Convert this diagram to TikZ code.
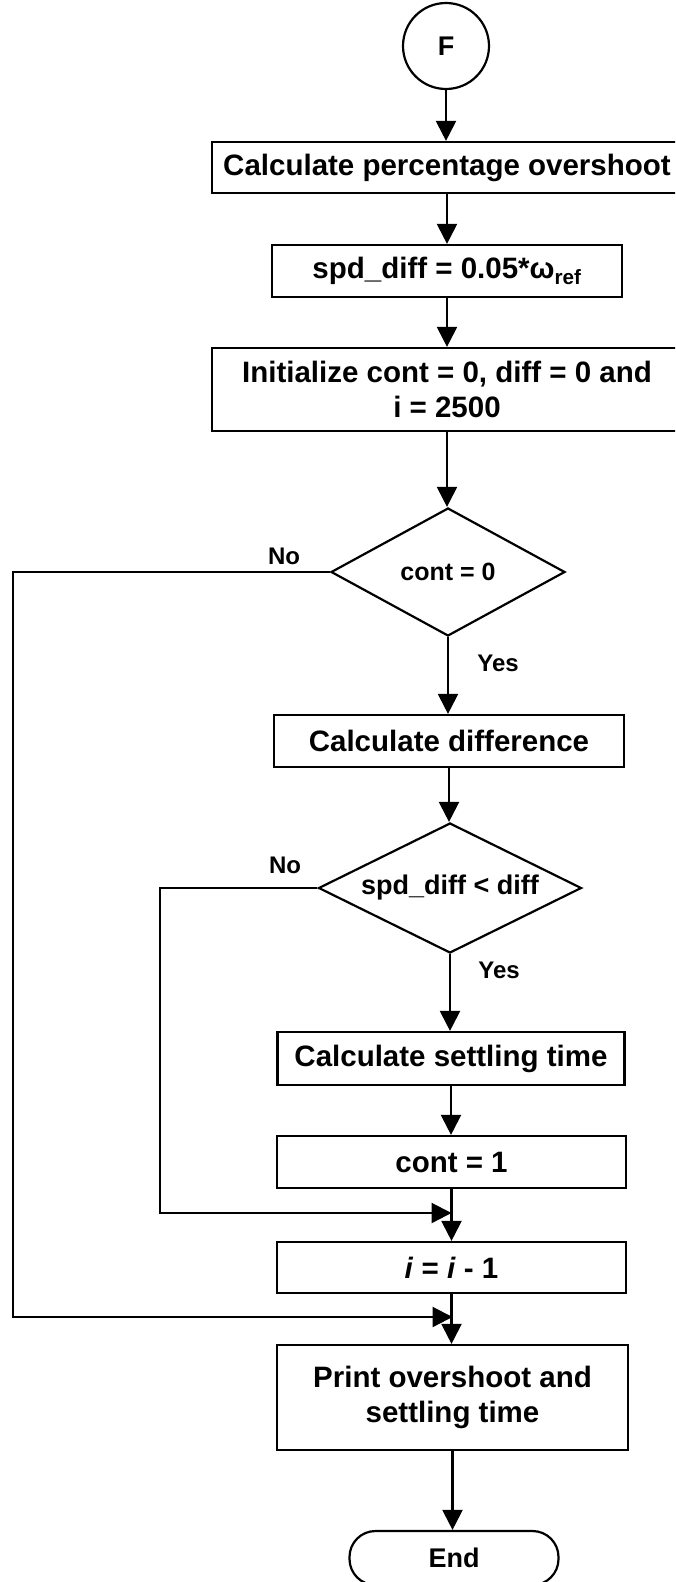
\documentclass[tikz,border=0pt]{standalone}
\usepackage{fontspec}
\setmainfont{Liberation Sans}
\usetikzlibrary{shapes.geometric,arrows.meta}

\begin{document}
\begin{tikzpicture}[x=1pt,y=-1pt,
  every node/.style={font=\fontsize{29.5}{35}\selectfont\bfseries},
  procbox/.style={draw, line width=2.2pt, inner sep=0pt, align=center},
  decision/.style={draw, shape=diamond, line width=2.2pt, inner sep=0pt,
    font=\fontsize{25}{30}\selectfont\bfseries},
  terminal/.style={draw, line width=2.2pt, inner sep=0pt, rounded corners=26pt},
  lbl/.style={font=\fontsize{24}{28}\selectfont\bfseries, inner sep=0pt},
  flow/.style={line width=2.2pt, -{Triangle[width=20pt,length=20pt]}}]

\useasboundingbox (0,0) rectangle (675,1582);
\clip (0,0) rectangle (675,1582);

% main column
\node[procbox, circle, minimum size=86pt, font=\fontsize{27}{30}\selectfont\bfseries] (F) at (446,46) {F};
\node[procbox, minimum width=470pt, minimum height=51pt] (b1) at (447,167.5) {Calculate percentage overshoot};
\node[procbox, minimum width=350pt, minimum height=52pt] (b2) at (447,271) {spd\_diff = 0.05*ω\textsubscript{ref}};
\node[procbox, minimum width=470pt, minimum height=83pt] (b3) at (447,389.5) {Initialize cont = 0, diff = 0 and\\ i = 2500};
\node[decision, minimum width=234pt, minimum height=128pt, aspect=1.83] (d1) at (448,572) {cont = 0};
\node[procbox, minimum width=350pt, minimum height=52pt] (b4) at (449,741) {Calculate difference};
\node[decision, minimum width=263pt, minimum height=130pt, aspect=2.02,
  font=\fontsize{27}{30}\selectfont\bfseries] (d2) at (450,888) {spd\_diff < diff};
\node[procbox, minimum width=347pt, minimum height=53pt] (b5) at (451,1058.5) {Calculate settling time};
\node[procbox, minimum width=349pt, minimum height=52pt] (b6) at (451.5,1162) {cont = 1};
\node[procbox, minimum width=349pt, minimum height=51pt] (b7) at (451.5,1267.5) {\textit{i} = \textit{i} - 1};
\node[procbox, minimum width=351pt, minimum height=105pt] (b8) at (452.5,1397.5) {Print overshoot and\\ settling time};
\node[terminal, minimum width=209pt, minimum height=54pt, font=\fontsize{27}{30}\selectfont\bfseries] (end) at (454,1558) {End};

% branch labels
\node[lbl] (no1) at (284,556) {No};
\node[lbl] (yes1) at (498,663) {Yes};
\node[lbl] (no2) at (285,865) {No};
\node[lbl] (yes2) at (499,970) {Yes};

% joins and loop corners
\coordinate (j1) at (451.5,1213);
\coordinate (j2) at (452.5,1317);
\coordinate (l1) at (13,1317);
\coordinate (l2) at (160,1213);

% straight flow
\draw[flow] (F.south) -- (F.south |- b1.north);
\draw[flow] (b1.south -| b2.north) -- (b2.north);
\draw[flow] (b2.south) -- (b2.south |- b3.north);
\draw[flow] (b3.south) -- (b3.south |- d1.north);
\draw[flow] (d1.south) -- (d1.south |- b4.north);
\draw[flow] (b4.south) -- (b4.south |- d2.north);
\draw[flow] (d2.south) -- (d2.south |- b5.north);
\draw[flow] (b5.south) -- (b5.south |- b6.north);
\draw[flow] (b6.south) -- (b7.north);
\draw[flow] (b7.south) -- (b7.south |- b8.north);
\draw[flow] (b8.south) -- (b8.south |- end.north);

% "No" branches
\draw[flow] (d1.west) -| (l1) -- (j2);
\draw[flow] (d2.west) -| (l2) -- (j1);
\end{tikzpicture}
\end{document}
